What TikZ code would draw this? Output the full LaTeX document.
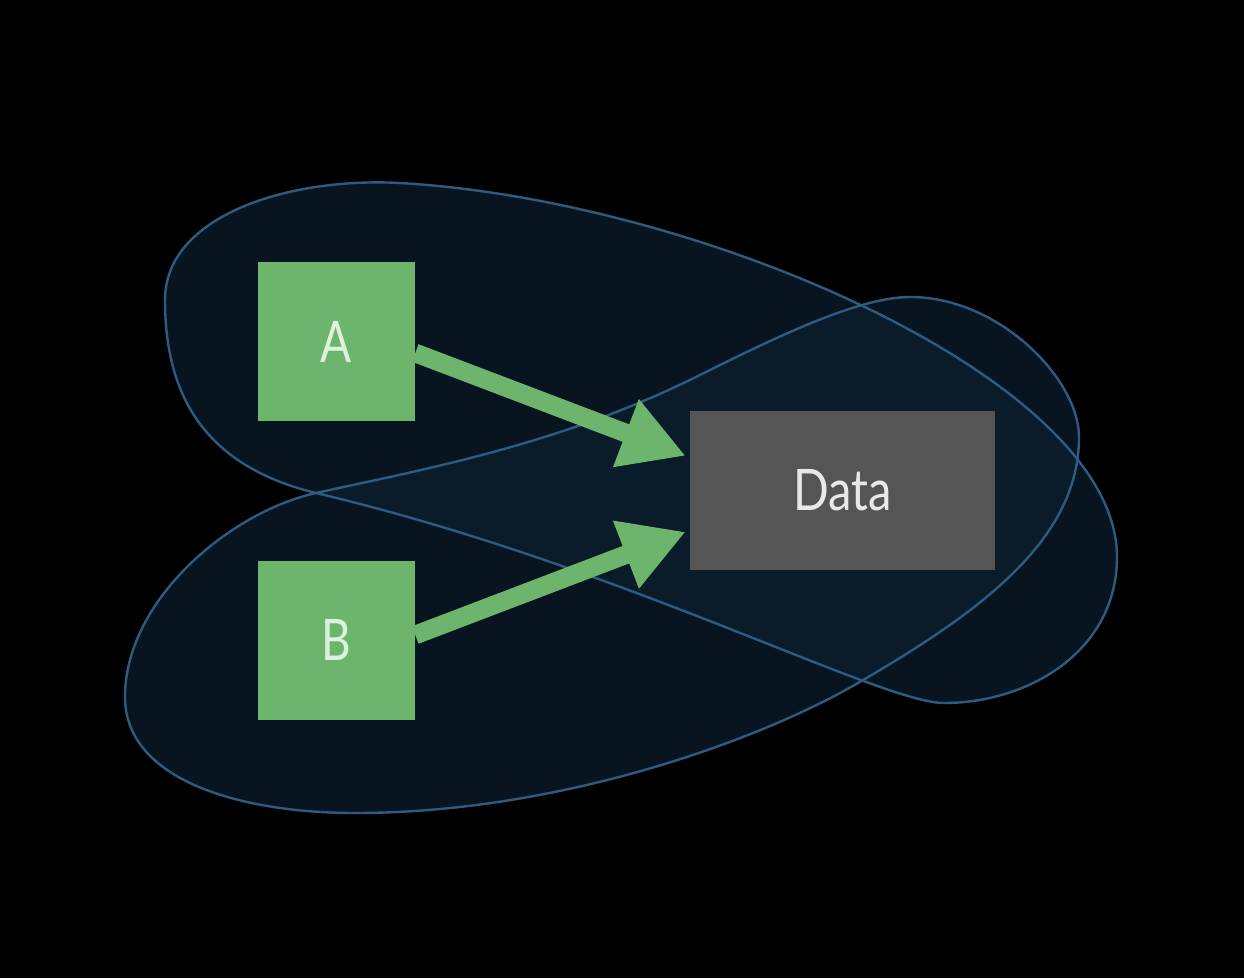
\documentclass[tikz,border=0pt]{standalone}
\usepackage{fontspec}
\setmainfont{Lato}
\usetikzlibrary{arrows.meta}
\definecolor{blobline}{HTML}{2D5B82}
\definecolor{blobfill}{HTML}{0C1E2E}
\definecolor{boxgreen}{HTML}{6DB56D}
\definecolor{boxgray}{HTML}{555555}
\definecolor{greentext}{HTML}{DDF2DD}
\definecolor{graytext}{HTML}{E8E8E8}
\begin{document}
\begin{tikzpicture}[x=0.75pt,y=-0.75pt,
  blobfillstyle/.style={fill=blobfill, fill opacity=0.7},
  bloblinestyle/.style={draw=blobline, line width=1.8pt},
  gbox/.style={fill=boxgreen, minimum width=117.75pt, minimum height=119.25pt, inner sep=0pt, text=greentext, font=\fontsize{43}{48}\selectfont},
  dbox/.style={fill=boxgray, minimum width=228.75pt, minimum height=119.25pt, inner sep=0pt, text=graytext, font=\fontsize{43}{48}\selectfont},
  flow/.style={draw=boxgreen, line width=14pt, -{Triangle[length=48pt,width=51pt]}}
]
\fill[black] (0,0) rectangle (1244,978);
\useasboundingbox (0,0) rectangle (1244,978);

\def\blobone{(165,300) .. controls (165,215) and (290,177) .. (400,183)
  .. controls (700,200) and (1117,380) .. (1117,557)
  .. controls (1117,650) and (1030,703) .. (944,703)
  .. controls (880,703) and (620,565) .. (316,493)
  .. controls (200,465) and (165,390) .. cycle}
\def\blobtwo{(125,697) .. controls (125,780) and (240,813) .. (355,813)
  .. controls (560,813) and (760,740) .. (858,683)
  .. controls (980,612) and (1079,540) .. (1079,437)
  .. controls (1079,380) and (1000,297) .. (910,297)
  .. controls (860,297) and (780,335) .. (700,375)
  .. controls (560,445) and (420,470) .. (316,493)
  .. controls (230,512) and (125,600) .. cycle}

\fill[blobfillstyle] \blobone;
\fill[blobfillstyle] \blobtwo;
\draw[bloblinestyle] \blobone;
\draw[bloblinestyle] \blobtwo;

\node[gbox] (A) at (336.5,341.5) {\scalebox{0.8}[1]{A}};
\node[gbox] (B) at (336.5,640) {\scalebox{0.8}[1]{B}};
\node[dbox] (Data) at (842.5,490.5) {\scalebox{0.82}[1]{Data}};

\draw[flow] ([yshift=-8.6pt]A.east) -- ([xshift=-3pt,yshift=26pt]Data.west);
\draw[flow] ([yshift=3.75pt]B.east) -- ([xshift=-3pt,yshift=-31pt]Data.west);
\end{tikzpicture}
\end{document}
